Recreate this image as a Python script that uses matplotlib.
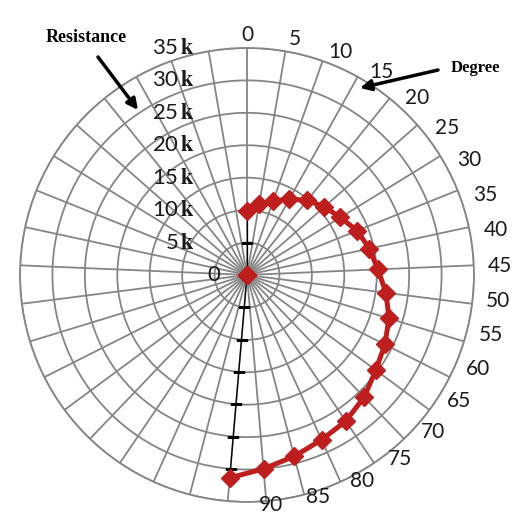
import numpy as np
import matplotlib
matplotlib.use('Agg')
import matplotlib.pyplot as plt


# 37 categories, 0..180 degrees in steps of 5 (only 0..90 get a label)
angle_deg = list(range(0, 185, 5))
labelled_deg = list(range(0, 95, 5))

# resistance in k-ohm, measured from 0 to 95 degrees
resistance_k = [9.8, 11.1, 12.1, 13.4, 14.8, 15.9, 16.9, 18.3, 19.3, 20.2,
                21.6, 22.9, 23.8, 24.7, 26.1, 27.2, 27.9, 28.9, 30.0, 31.4]
# the remaining categories sit at zero
rest_k = [0] * (len(angle_deg) - len(resistance_k))

ring_k = [0, 5, 10, 15, 20, 25, 30, 35]
ring_labels = ['0', '5', '10', '15', '20', '25', '30', '35']

red = '#BF1E1E'
grid_gray = '#858585'


def main():

    plt.rcParams['mathtext.fontset'] = 'stix'

    fig = plt.figure(figsize = (5.21, 5.20), dpi = 100)
    fig.patch.set_facecolor('white')

    ax = fig.add_axes([0.0384, 0.0347, 0.8714, 0.8731], projection = 'polar')
    ax.set_theta_zero_location('N')
    ax.set_theta_direction(-1)

    n = len(angle_deg)
    theta = np.arange(n) * 2 * np.pi / n

    ax.set_xticks(theta)
    ax.set_xticklabels([])
    ax.set_ylim(0, ring_k[-1])
    ax.set_yticks(ring_k)
    ax.set_yticklabels([])
    ax.tick_params(length = 0)
    ax.grid(True, color = grid_gray, lw = 1.3)
    ax.spines['polar'].set_color(grid_gray)
    ax.spines['polar'].set_linewidth(1.3)

    # black axis lines from the centre to the first and last point
    n_pts = len(resistance_k)
    for idx in [0, n_pts - 1]:
        ax.plot([theta[idx], theta[idx]], [0, resistance_k[idx]],
                color = 'black', lw = 0.9, zorder = 3)
        r_marks = [r for r in ring_k[1:] if r < resistance_k[idx]]
        ax.plot(np.full(len(r_marks), theta[idx]), r_marks, ls = 'none',
                marker = '_', ms = 8, mew = 0.8, color = 'black', zorder = 3)

    ax.plot(theta[:n_pts], resistance_k, color = red, lw = 3.6,
            marker = 'D', ms = 9, zorder = 4)
    ax.plot(theta[n_pts:], rest_k, ls = 'none', color = red,
            marker = 'D', ms = 9, zorder = 4)

    # radial value labels, right aligned in a column left of the axis
    for r, lab in zip(ring_k, ring_labels):
        if r == 0:
            ax.annotate(lab, xy = (0, r), xytext = (-27, 0), textcoords = 'offset pixels',
                        ha = 'right', va = 'center', fontsize = 16, family = 'Lato',
                        color = '#1a1a1a')
        else:
            ax.annotate(lab + r'$\,\mathbf{k}$', xy = (0, r), xytext = (-52, 0),
                        textcoords = 'offset pixels', ha = 'right', va = 'center',
                        fontsize = 16, family = 'Lato', color = '#1a1a1a')

    # category labels round the outside, Excel-like placement
    for i, deg in enumerate(angle_deg):
        if deg not in labelled_deg:
            continue
        phi = theta[i] + np.deg2rad(3.5) * np.sin(2 * theta[i])
        b = 240 if np.cos(phi) > 0 else 231
        x = 0.5 + 253 * np.sin(phi) / 454
        y = 0.5 + b * np.cos(phi) / 454
        ax.text(x, y, str(deg), transform = ax.transAxes, ha = 'center', va = 'center',
                fontsize = 15, family = 'Lato', color = '#1a1a1a')

    # hand annotations
    fig.text(86, 482, 'Resistance', transform = None, ha = 'center', va = 'center',
             fontsize = 13, family = 'Liberation Serif', weight = 'bold')
    fig.text(475, 452, 'Degree', transform = None, ha = 'center', va = 'center',
             fontsize = 12, family = 'Liberation Serif', weight = 'bold')

    arrow = dict(arrowstyle = '-|>', lw = 2.5, color = 'black', mutation_scale = 16,
                 shrinkA = 0, shrinkB = 0)
    ax.annotate('', xy = (138, 410), xycoords = 'figure pixels',
                xytext = (98, 463), textcoords = 'figure pixels', arrowprops = arrow)
    ax.annotate('', xy = (360, 432), xycoords = 'figure pixels',
                xytext = (438, 450), textcoords = 'figure pixels', arrowprops = arrow)

    fig.savefig('out.png', dpi = 100)


if __name__ == "__main__":
    main()
